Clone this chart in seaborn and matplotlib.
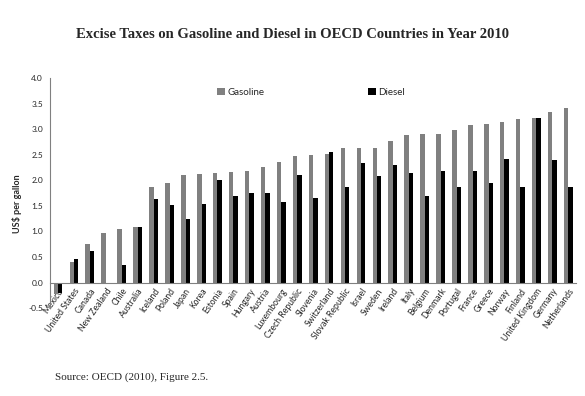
import numpy as np
import pandas as pd
import matplotlib
matplotlib.use("Agg")
import matplotlib.pyplot as plt
import seaborn as sns

# data (US$ per gallon, 2010)
countries = ["Mexico", "United States", "Canada", "New Zealand", "Chile", "Australia",
             "Iceland", "Poland", "Japan", "Korea", "Estonia", "Spain", "Hungary",
             "Austria", "Luxembourg", "Czech Republic", "Slovenia", "Switzerland",
             "Slovak Republic", "Israel", "Sweden", "Ireland", "Italy", "Belgium",
             "Denmark", "Portugal", "France", "Greece", "Norway", "Finland",
             "United Kingdom", "Germany", "Netherlands"]
gasoline = [-0.22, 0.40, 0.76, 0.97, 1.05, 1.09, 1.86, 1.94, 2.10, 2.13, 2.15, 2.17,
            2.18, 2.25, 2.35, 2.47, 2.49, 2.51, 2.63, 2.63, 2.64, 2.77, 2.88, 2.91,
            2.91, 2.98, 3.09, 3.10, 3.14, 3.19, 3.21, 3.34, 3.41]
diesel = [-0.20, 0.46, 0.61, 0.0, 0.35, 1.09, 1.64, 1.51, 1.25, 1.53, 2.00, 1.69,
          1.76, 1.76, 1.58, 2.11, 1.65, 2.55, 1.87, 2.33, 2.08, 2.29, 2.15, 1.70,
          2.18, 1.86, 2.18, 1.94, 2.42, 1.86, 3.21, 2.40, 1.86]
fuels = ["Gasoline", "Diesel"]
bar_colors = ["#808080", "#000000"]

df = pd.DataFrame({"Country": countries, "Gasoline": gasoline, "Diesel": diesel})
df = df.melt(id_vars="Country", value_vars=fuels, var_name="Fuel", value_name="Tax")

sns.set_style("white")
plt.rcParams["font.family"] = ["Lato", "DejaVu Sans"]

fig = plt.figure(figsize=(5.85, 3.96), dpi=100)
ax = fig.add_axes([0.0855, 0.222, 0.8995, 0.581])

sns.barplot(data=df, x="Country", y="Tax", hue="Fuel", hue_order=fuels,
            palette=bar_colors, saturation=1, width=0.55, ax=ax, linewidth=0)

ax.set_ylim(-0.5, 4.0)
ax.set_xlim(-0.5, len(countries) - 0.5)
yt = np.arange(-0.5, 4.01, 0.5)
ax.set_yticks(yt)
ax.set_yticklabels([f"{v:.1f}" for v in yt], fontsize=6)
ax.set_xticks(range(len(countries)))
ax.set_xticklabels(countries)
ax.set_xticks(np.arange(-0.5, len(countries), 1), minor=True)
ax.tick_params(axis="x", which="major", length=0, pad=3)
ax.tick_params(axis="x", which="minor", length=3, direction="out", color="#808080")
ax.tick_params(axis="y", length=3, direction="out", color="#808080", pad=2)
ax.set_xlabel("")
ax.set_ylabel("")

for s in ["top", "right"]:
    ax.spines[s].set_visible(False)
ax.spines["bottom"].set_position(("data", 0))
for s in ["left", "bottom"]:
    ax.spines[s].set_color("#808080")
    ax.spines[s].set_linewidth(0.8)

ax.legend(loc="upper left", bbox_to_anchor=(0.31, 0.975), ncol=2, frameon=False,
          fontsize=7, handlelength=0.8, handleheight=0.8, handletextpad=0.3,
          columnspacing=10.6, borderaxespad=0)

plt.setp(ax.get_xticklabels(), rotation=55, ha="right", rotation_mode="anchor", fontsize=6.2)

fig.text(0.5, 0.914, "Excise Taxes on Gasoline and Diesel in OECD Countries in Year 2010",
         ha="center", va="center", fontsize=10.5, fontweight="bold", family="Liberation Serif")
fig.text(0.029, 0.485, "US$ per gallon", rotation=90, ha="center", va="center",
         fontsize=6.5, fontweight="bold")
fig.text(0.094, 0.048, "Source: OECD (2010), Figure 2.5.", ha="left", va="center",
         fontsize=8, family="Liberation Serif")

plt.savefig("out.png", dpi=100)
